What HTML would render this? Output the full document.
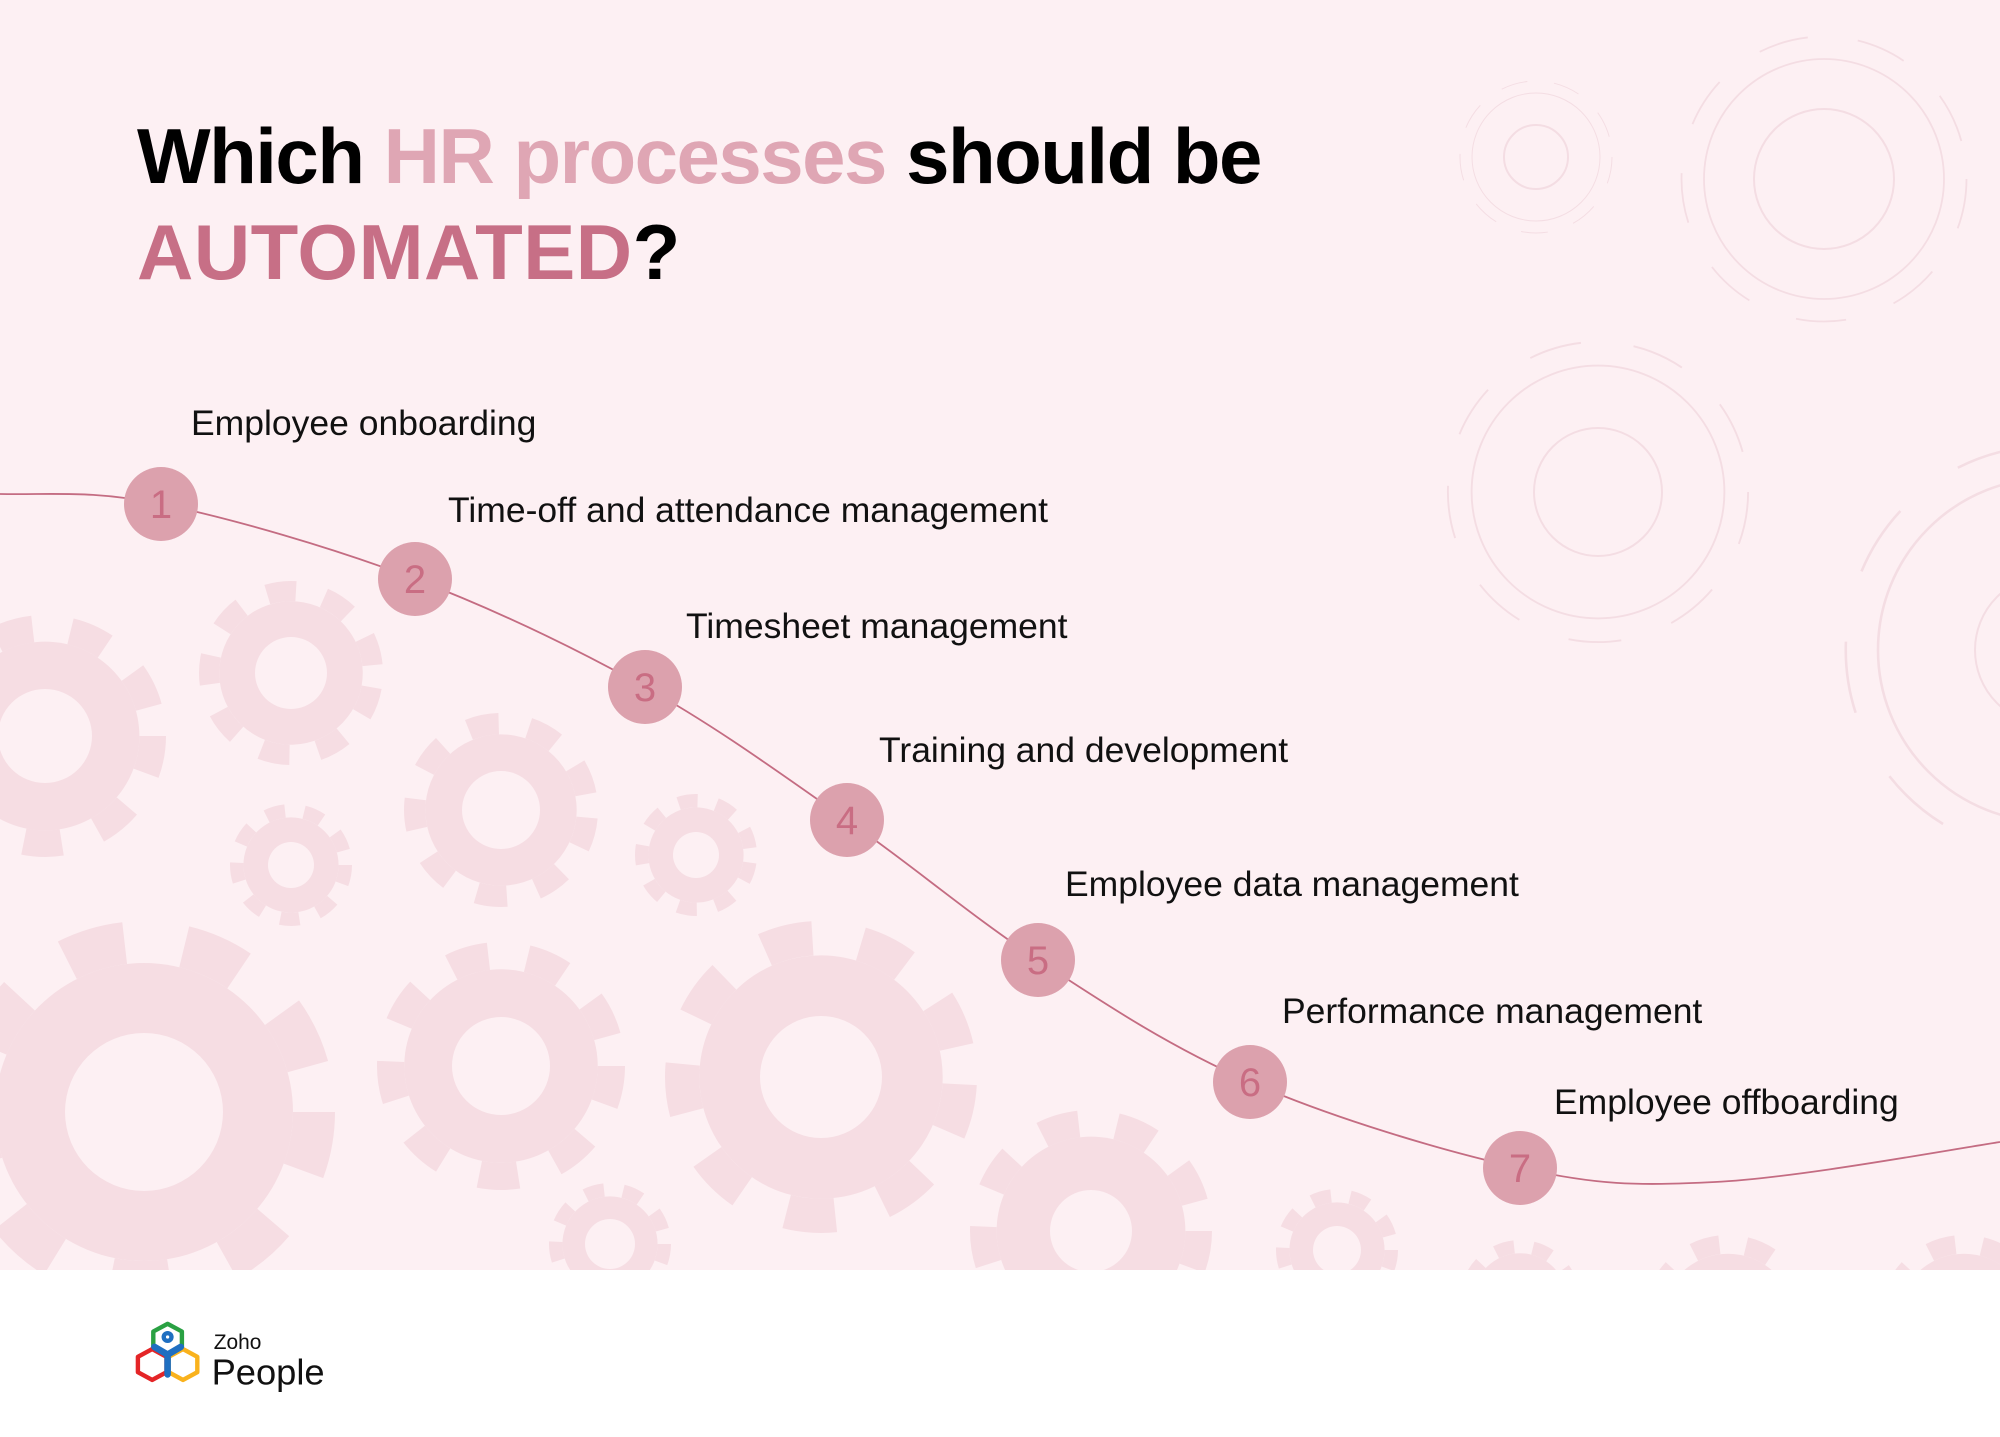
<!DOCTYPE html>
<html><head><meta charset="utf-8"><style>
html,body{margin:0;padding:0}
body{width:2000px;height:1437px;position:relative;background:#fff;overflow:hidden;font-family:"Liberation Sans",sans-serif}
.bg{position:absolute;left:0;top:0;width:2000px;height:1270px;background:#fdf0f3;overflow:hidden}
svg{position:absolute;left:0;top:0}
.t{position:absolute;font-weight:bold;font-size:78px;letter-spacing:-1.5px;color:#000;white-space:nowrap;line-height:1}
.l{position:absolute;font-size:35.5px;color:#111;white-space:nowrap;line-height:1}
</style></head><body>
<div class="bg">
<svg width="2000" height="1270" viewBox="0 0 2000 1270">
<defs>
<g id="g"><circle r="0.78" fill="#f6dde3"/><circle r="0.89" fill="none" stroke="#f6dde3" stroke-width="0.22" pathLength="16" stroke-dasharray="1 1"/></g>
<g id="o"><circle r="0.8" fill="none" stroke="#f4dde3" stroke-width="0.012"/><circle r="0.95" fill="none" stroke="#f4dde3" stroke-width="0.012" pathLength="16" stroke-dasharray="1 1"/></g>
</defs>
<g>
<use href="#g" transform="translate(45,736) scale(121)"/><circle cx="45" cy="736" r="47" fill="#fdf0f3"/>
<use href="#g" transform="translate(291,673) scale(92) rotate(10)"/><circle cx="291" cy="673" r="36" fill="#fdf0f3"/>
<use href="#g" transform="translate(501,810) scale(97) rotate(5)"/><circle cx="501" cy="810" r="39" fill="#fdf0f3"/>
<use href="#g" transform="translate(291,865) scale(61)"/><circle cx="291" cy="865" r="23" fill="#fdf0f3"/>
<use href="#g" transform="translate(696,855) scale(61) rotate(8)"/><circle cx="696" cy="855" r="23" fill="#fdf0f3"/>
<use href="#g" transform="translate(144,1112) scale(191)"/><circle cx="144" cy="1112" r="79" fill="#fdf0f3"/>
<use href="#g" transform="translate(501,1066) scale(124)"/><circle cx="501" cy="1066" r="49" fill="#fdf0f3"/>
<use href="#g" transform="translate(821,1077) scale(156) rotate(3)"/><circle cx="821" cy="1077" r="61" fill="#fdf0f3"/>
<use href="#g" transform="translate(1091,1231) scale(121)"/><circle cx="1091" cy="1231" r="41" fill="#fdf0f3"/>
<use href="#g" transform="translate(610,1244) scale(61)"/><circle cx="610" cy="1244" r="25" fill="#fdf0f3"/>
<use href="#g" transform="translate(1337,1250) scale(61)"/><circle cx="1337" cy="1250" r="24" fill="#fdf0f3"/>
<use href="#g" transform="translate(1520,1300) scale(60)"/>
<use href="#g" transform="translate(1728,1320) scale(85)"/>
<use href="#g" transform="translate(1964,1320) scale(85)"/>
</g>
<g fill="none" stroke="#f4dde3" stroke-width="2">
<circle cx="1536" cy="157" r="32"/>
<circle cx="1824" cy="179" r="70"/>
<circle cx="1598" cy="492" r="64"/>
<circle cx="2050" cy="650" r="75"/>
</g>
<use href="#o" transform="translate(1536,157) scale(80)"/>
<use href="#o" transform="translate(1824,179) scale(150)"/>
<use href="#o" transform="translate(1598,492) scale(158)"/>
<use href="#o" transform="translate(2050,650) scale(215)"/>
<path d="M0,494 C53,495 92,490 161,504 C230,518 334,548 415,579 C496,610 573,647 645,687 C717,727 781,774 847,820 C912,865 971,916 1038,960 C1105,1004 1170,1047 1250,1082 C1330,1117 1442,1151 1520,1168 C1597,1185 1635,1186 1715,1182 C1795,1178 1936,1152 2000,1142" fill="none" stroke="#c46c82" stroke-width="1.8"/>
<g fill="#dca1ad">
<circle cx="161" cy="504" r="37"/><circle cx="415" cy="579" r="37"/><circle cx="645" cy="687" r="37"/><circle cx="847" cy="820" r="37"/><circle cx="1038" cy="960" r="37"/><circle cx="1250" cy="1082" r="37"/><circle cx="1520" cy="1168" r="37"/>
</g>
<g fill="#c96d83" font-family="Liberation Sans, sans-serif" font-size="40" text-anchor="middle">
<text x="161" y="518">1</text><text x="415" y="593">2</text><text x="645" y="701">3</text><text x="847" y="834">4</text><text x="1038" y="974">5</text><text x="1250" y="1096">6</text><text x="1520" y="1182">7</text>
</g>
</svg>
<div class="t" style="left:137px;top:117px">Which <span style="color:#dfa6b4">HR processes</span> should be</div>
<div class="t" style="left:137px;top:213px;letter-spacing:0.5px"><span style="color:#c76f86">AUTOMATED</span>?</div>
<div class="l" style="left:191px;top:406px">Employee onboarding</div>
<div class="l" style="left:448px;top:493px">Time-off and attendance management</div>
<div class="l" style="left:686px;top:609px">Timesheet management</div>
<div class="l" style="left:879px;top:733px">Training and development</div>
<div class="l" style="left:1065px;top:867px">Employee data management</div>
<div class="l" style="left:1282px;top:994px">Performance management</div>
<div class="l" style="left:1554px;top:1085px">Employee offboarding</div>
</div>
<svg width="220" height="90" viewBox="0 0 200 80" style="left:128px;top:1314px">
<g fill="none" stroke-width="4" stroke-linejoin="round">
<polygon points="36,8 49,15 49,29 36,36 23,29 23,15" stroke="#2aa143"/>
<polygon points="22,31 35,38 35,52 22,59 9,52 9,38" stroke="#e42527"/>
<polygon points="50,31 63,38 63,52 50,59 37,52 37,38" stroke="#f9b21d"/>
<circle cx="36" cy="20" r="3.5" stroke="#1f6fc1"/>
<path d="M24,29 L36,36 L48,29 M36,36 L36,54" stroke="#1f6fc1" stroke-width="6" stroke-linecap="round"/>
</g>
<text x="78" y="31" font-family="Liberation Sans, sans-serif" font-size="19" fill="#111">Zoho</text>
<text x="76" y="63" font-family="Liberation Sans, sans-serif" font-size="33" fill="#111">People</text>
</svg>
</body></html>
